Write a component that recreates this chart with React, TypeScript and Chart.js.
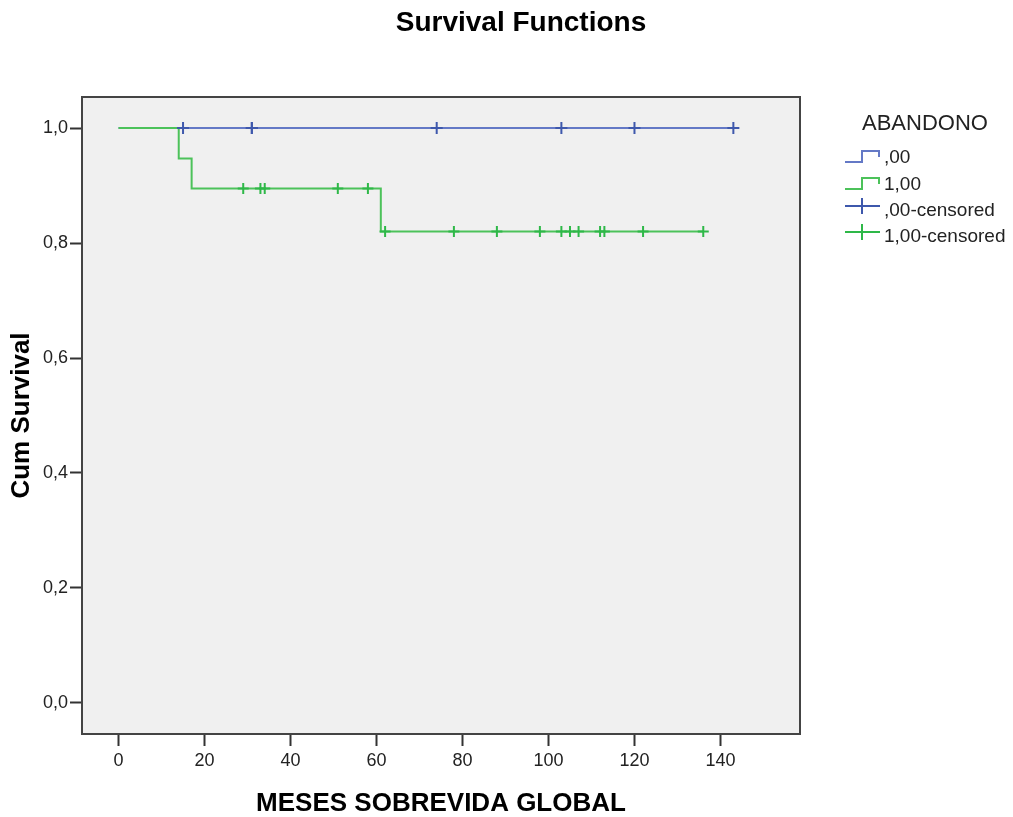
import React, { useEffect, useRef } from 'react';
import { Chart, registerables } from 'chart.js';

Chart.register(...registerables);

// ---- text ----
const chartTitle = 'Survival Functions';
const xAxisTitle = 'MESES SOBREVIDA GLOBAL';
const yAxisTitle = 'Cum Survival';
const legendTitle = 'ABANDONO';
const seriesNames = [',00', '1,00'];
const censoredNames = [',00-censored', '1,00-censored'];

// ---- ticks ----
const xTicks = [0, 20, 40, 60, 80, 100, 120, 140];
const yTicks = [0, 0.2, 0.4, 0.6, 0.8, 1.0];

// ---- group ,00 ----
const group0Times = [0, 143];
const group0Surv = [1, 1];
const group0CensorTimes = [15, 31, 31, 74, 103, 120, 143];
const group0CensorSurv = [1, 1, 1, 1, 1, 1, 1];

// ---- group 1,00 ----
const group1Times = [0, 14, 17, 61, 136];
const group1Surv = [1, 0.947, 0.895, 0.82, 0.82];
const group1CensorTimes = [29, 33, 34, 51, 58, 62, 78, 88, 98, 103, 105, 107, 112, 113, 122, 136];
const group1CensorSurv = [0.895, 0.895, 0.895, 0.895, 0.895, 0.82, 0.82, 0.82, 0.82, 0.82, 0.82, 0.82, 0.82, 0.82, 0.82, 0.82];

const FONT = '"Liberation Sans", Arial, sans-serif';
const BLUE_LINE = '#6479c6';
const BLUE_MARK = '#3e58ac';
const GREEN_LINE = '#4cc25a';
const GREEN_MARK = '#2eb848';

const toPts = (xs: number[], ys: number[]) => xs.map((x, i) => ({ x, y: ys[i] }));
const fmtComma = (v: number) => v.toFixed(1).replace('.', ',');

const framePlugin = {
  id: 'frame',
  beforeDraw(chart: any) {
    const { ctx, chartArea: a } = chart;
    ctx.save();
    ctx.fillStyle = '#ffffff';
    ctx.fillRect(0, 0, chart.width, chart.height);
    ctx.fillStyle = '#f0f0f0';
    ctx.fillRect(a.left, a.top, a.right - a.left, a.bottom - a.top);
    ctx.restore();
  },
  afterDraw(chart: any) {
    const { ctx, chartArea: a } = chart;
    ctx.save();
    ctx.strokeStyle = '#444444';
    ctx.lineWidth = 2;
    ctx.strokeRect(a.left, a.top, a.right - a.left, a.bottom - a.top);

    // chart title
    ctx.fillStyle = '#000';
    ctx.font = `bold 28px ${FONT}`;
    ctx.textAlign = 'center';
    ctx.textBaseline = 'middle';
    ctx.fillText(chartTitle, 521, 23);

    // legend
    ctx.font = `22px ${FONT}`;
    ctx.textAlign = 'left';
    ctx.fillStyle = '#222';
    ctx.fillText(legendTitle, 862, 124);

    ctx.font = `19px ${FONT}`;
    const rowsY = [158, 185, 211, 237];
    const lineCols = [BLUE_LINE, GREEN_LINE];
    const markCols = [BLUE_MARK, GREEN_MARK];
    // step icons
    for (let i = 0; i < 2; i++) {
      const yc = rowsY[i];
      ctx.strokeStyle = lineCols[i];
      ctx.lineWidth = 2;
      ctx.beginPath();
      ctx.moveTo(845, yc + 4);
      ctx.lineTo(862, yc + 4);
      ctx.lineTo(862, yc - 7);
      ctx.lineTo(879, yc - 7);
      ctx.lineTo(879, yc - 1);
      ctx.stroke();
      ctx.fillStyle = '#222';
      ctx.fillText(seriesNames[i], 884, yc);
    }
    // censored icons
    for (let i = 0; i < 2; i++) {
      const yc = rowsY[i + 2];
      const cy = yc - 5;
      ctx.strokeStyle = markCols[i];
      ctx.lineWidth = 2;
      ctx.beginPath();
      ctx.moveTo(845, cy);
      ctx.lineTo(880, cy);
      ctx.moveTo(862, cy - 8);
      ctx.lineTo(862, cy + 8);
      ctx.stroke();
      ctx.fillStyle = '#222';
      ctx.fillText(censoredNames[i], 884, yc);
    }
    ctx.restore();
  },
};

export default function App() {
  const ref = useRef<HTMLCanvasElement | null>(null);

  useEffect(() => {
    if (!ref.current) return;
    const chart = new Chart(ref.current, {
      type: 'scatter',
      data: {
        datasets: [
          {
            label: censoredNames[1],
            data: toPts(group1CensorTimes, group1CensorSurv),
            showLine: false,
            pointStyle: 'cross',
            pointRadius: 5.5,
            pointBorderWidth: 2,
            borderColor: GREEN_MARK,
            backgroundColor: GREEN_MARK,
          },
          {
            label: censoredNames[0],
            data: toPts(group0CensorTimes, group0CensorSurv),
            showLine: false,
            pointStyle: 'cross',
            pointRadius: 6,
            pointBorderWidth: 2,
            borderColor: BLUE_MARK,
            backgroundColor: BLUE_MARK,
          },
          {
            label: seriesNames[1],
            data: toPts(group1Times, group1Surv),
            showLine: true,
            stepped: 'before',
            borderColor: GREEN_LINE,
            borderWidth: 2,
            pointRadius: 0,
            fill: false,
          },
          {
            label: seriesNames[0],
            data: toPts(group0Times, group0Surv),
            showLine: true,
            stepped: 'before',
            borderColor: BLUE_LINE,
            borderWidth: 2,
            pointRadius: 0,
            fill: false,
          },
        ],
      },
      options: {
        responsive: false,
        animation: false,
        events: [],
        layout: { padding: { top: 97, right: 213, left: 0, bottom: 0 } },
        plugins: {
          legend: { display: false },
          title: { display: false },
          tooltip: { enabled: false },
        },
        scales: {
          x: {
            type: 'linear',
            min: -8.5,
            max: 158.5,
            afterBuildTicks: (s: any) => {
              s.ticks = xTicks.map((v) => ({ value: v }));
            },
            afterFit: (s: any) => {
              s.height = 83;
            },
            border: { display: false },
            grid: {
              drawOnChartArea: false,
              drawTicks: true,
              tickLength: 12,
              tickColor: '#333',
              tickWidth: 2,
            },
            ticks: {
              autoSkip: false,
              maxRotation: 0,
              padding: 4,
              color: '#222',
              font: { family: FONT, size: 18 },
              callback: (v: any) => String(v),
            },
            title: {
              display: true,
              text: xAxisTitle,
              color: '#000',
              font: { family: FONT, size: 26, weight: 'bold', lineHeight: 1 },
              padding: { top: 0, bottom: 0 },
            },
          },
          y: {
            type: 'linear',
            min: -0.054,
            max: 1.054,
            afterBuildTicks: (s: any) => {
              s.ticks = yTicks.map((v) => ({ value: v }));
            },
            afterFit: (s: any) => {
              s.width = 82;
            },
            border: { display: false },
            grid: {
              drawOnChartArea: false,
              drawTicks: true,
              tickLength: 12,
              tickColor: '#333',
              tickWidth: 2,
            },
            ticks: {
              autoSkip: false,
              padding: 2,
              color: '#222',
              font: { family: FONT, size: 18 },
              callback: (v: any) => fmtComma(Number(v)),
            },
            title: {
              display: true,
              text: yAxisTitle,
              color: '#000',
              font: { family: FONT, size: 26, weight: 'bold', lineHeight: 1 },
              padding: { top: 9, bottom: 0 },
            },
          },
        },
      },
      plugins: [framePlugin],
    });
    return () => chart.destroy();
  }, []);

  return (
    <canvas
      ref={ref}
      width={1013}
      height={817}
      style={{ position: 'absolute', left: 0, top: 0, width: 1013, height: 817 }}
    />
  );
}
